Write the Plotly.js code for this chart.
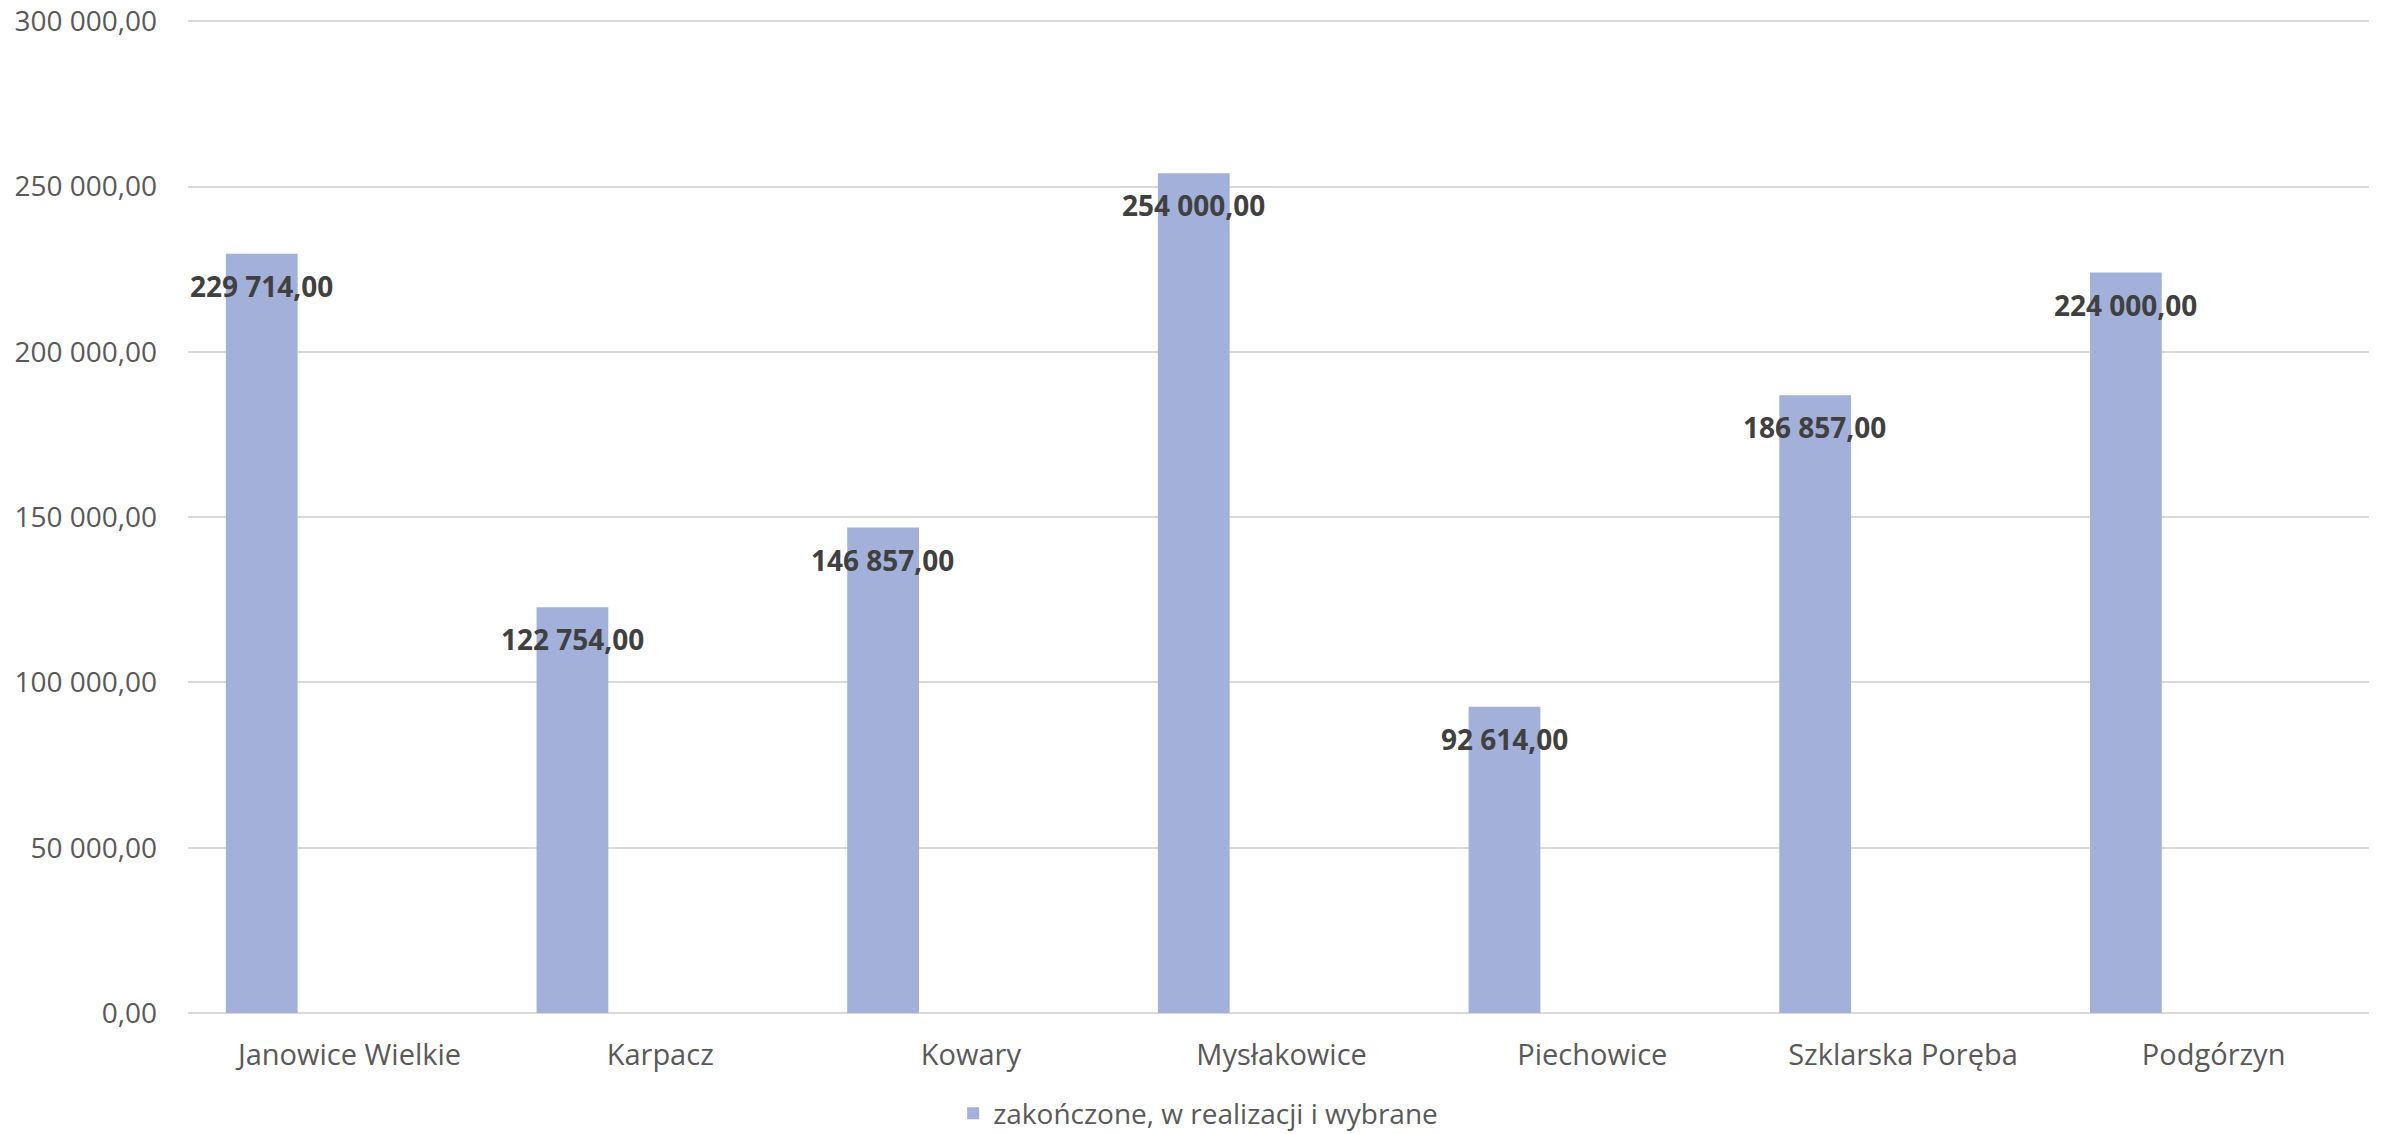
<!DOCTYPE html>
<html>
<head>
<meta charset="utf-8">
<script src="https://cdn.plot.ly/plotly-3.0.1.min.js"></script>
<style>html,body{margin:0;padding:0;background:#fff;}#chart{width:2382px;height:1134px;}</style>
</head>
<body>
<div id="chart"></div>
<script>
const categories = ["Janowice Wielkie", "Karpacz", "Kowary", "Mysłakowice", "Piechowice", "Szklarska Poręba", "Podgórzyn"];
const values = [229714, 122754, 146857, 254000, 92614, 186857, 224000];
const seriesName = "zakończone, w realizacji i wybrane";
const yTickVals = [0, 50000, 100000, 150000, 200000, 250000, 300000];

function fmt(v) {
  const parts = v.toFixed(2).split(".");
  const intPart = parts[0].replace(/\B(?=(\d{3})+(?!\d))/g, " ");
  return intPart + "," + parts[1];
}

const FONT = "Open Sans, Noto Sans, sans-serif";

const trace = {
  type: "bar",
  x: categories,
  y: values,
  name: seriesName,
  width: 0.231,
  offset: -0.398,
  marker: { color: "#a3b1da", line: { width: 0 } },
  hoverinfo: "skip",
  showlegend: true
};

const annotations = categories.map((c, i) => ({
  x: c,
  y: values[i],
  xref: "x",
  yref: "y",
  text: fmt(values[i]),
  showarrow: false,
  xshift: -88,
  yshift: -32,
  xanchor: "center",
  yanchor: "middle",
  font: { family: FONT, size: 28, color: "#404040", weight: "bold" }
}));

const layout = {
  width: 2382,
  height: 1134,
  margin: { l: 188, r: 13, t: 18, b: 121, pad: 0 },
  paper_bgcolor: "#ffffff",
  plot_bgcolor: "#ffffff",
  separators: ", ",
  showlegend: true,
  legend: {
    orientation: "h",
    xref: "container",
    yref: "container",
    x: 0.503,
    xanchor: "center",
    y: 0.018,
    yanchor: "middle",
    itemwidth: 30,
    font: { family: FONT, size: 28, color: "#595959" }
  },
  xaxis: {
    type: "category",
    showgrid: false,
    showline: false,
    ticks: "",
    ticklabelstandoff: 22,
    tickfont: { family: FONT, size: 29, color: "#595959" },
    fixedrange: true
  },
  yaxis: {
    range: [0, 301000],
    tickvals: yTickVals,
    tickformat: ",.2f",
    showgrid: true,
    gridcolor: "#d9d9d9",
    gridwidth: 2,
    zeroline: true,
    zerolinecolor: "#d9d9d9",
    zerolinewidth: 2,
    showline: false,
    ticks: "",
    ticklabelstandoff: 30,
    tickfont: { family: FONT, size: 28, color: "#595959" },
    fixedrange: true
  },
  annotations: annotations
};

Plotly.newPlot("chart", [trace], layout, { staticPlot: true, displayModeBar: false });
</script>
</body>
</html>
